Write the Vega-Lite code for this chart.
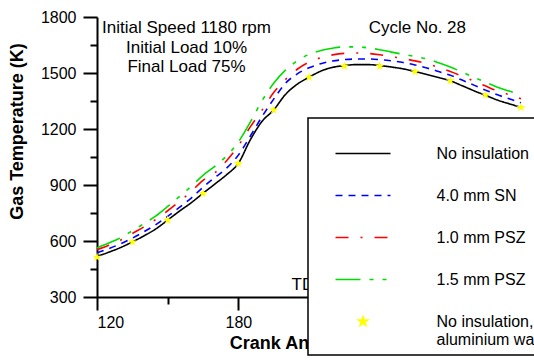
{
  "$schema": "https://vega.github.io/schema/vega-lite/v6.json",
  "width": 424,
  "height": 280,
  "autosize": "none",
  "padding": {"left": 97, "top": 17, "right": 13, "bottom": 65},
  "background": "white",
  "config": {
    "view": {"stroke": null},
    "font": "Liberation Sans",
    "axis": {"grid": false, "domainColor": "black", "domainWidth": 2, "tickColor": "black", "tickWidth": 2, "labelColor": "black", "titleColor": "black", "labelFont": "Liberation Sans", "titleFont": "Liberation Sans", "labelFontSize": 16, "titleFontSize": 18, "titleFontWeight": "bold"}
  },
  "resolve": {"axis": {"x": "independent", "y": "independent"}},
  "datasets": {
    "curves": [
      {"x":120,"T":518,"s":"No insulation"},{"x":125,"T":540,"s":"No insulation"},{"x":130,"T":565,"s":"No insulation"},{"x":135,"T":595,"s":"No insulation"},{"x":140,"T":628,"s":"No insulation"},{"x":145,"T":665,"s":"No insulation"},{"x":150,"T":712,"s":"No insulation"},{"x":155,"T":760,"s":"No insulation"},{"x":160,"T":805,"s":"No insulation"},{"x":165,"T":855,"s":"No insulation"},{"x":170,"T":905,"s":"No insulation"},{"x":175,"T":955,"s":"No insulation"},{"x":180,"T":1016,"s":"No insulation"},{"x":185,"T":1140,"s":"No insulation"},{"x":190,"T":1240,"s":"No insulation"},{"x":195,"T":1302,"s":"No insulation"},{"x":200,"T":1385,"s":"No insulation"},{"x":205,"T":1440,"s":"No insulation"},{"x":210,"T":1477,"s":"No insulation"},{"x":215,"T":1510,"s":"No insulation"},{"x":220,"T":1530,"s":"No insulation"},{"x":225,"T":1540,"s":"No insulation"},{"x":230,"T":1545,"s":"No insulation"},{"x":235,"T":1545,"s":"No insulation"},{"x":240,"T":1540,"s":"No insulation"},{"x":245,"T":1532,"s":"No insulation"},{"x":250,"T":1522,"s":"No insulation"},{"x":255,"T":1508,"s":"No insulation"},{"x":260,"T":1492,"s":"No insulation"},{"x":265,"T":1476,"s":"No insulation"},{"x":270,"T":1458,"s":"No insulation"},{"x":275,"T":1432,"s":"No insulation"},{"x":280,"T":1405,"s":"No insulation"},{"x":285,"T":1380,"s":"No insulation"},{"x":290,"T":1355,"s":"No insulation"},{"x":295,"T":1335,"s":"No insulation"},{"x":300,"T":1316,"s":"No insulation"},
      {"x":120,"T":537,"s":"4.0 mm SN"},{"x":125,"T":559,"s":"4.0 mm SN"},{"x":130,"T":585,"s":"4.0 mm SN"},{"x":135,"T":615,"s":"4.0 mm SN"},{"x":140,"T":650,"s":"4.0 mm SN"},{"x":145,"T":688,"s":"4.0 mm SN"},{"x":150,"T":732,"s":"4.0 mm SN"},{"x":155,"T":780,"s":"4.0 mm SN"},{"x":160,"T":830,"s":"4.0 mm SN"},{"x":165,"T":888,"s":"4.0 mm SN"},{"x":170,"T":940,"s":"4.0 mm SN"},{"x":175,"T":990,"s":"4.0 mm SN"},{"x":180,"T":1060,"s":"4.0 mm SN"},{"x":185,"T":1160,"s":"4.0 mm SN"},{"x":190,"T":1265,"s":"4.0 mm SN"},{"x":195,"T":1360,"s":"4.0 mm SN"},{"x":200,"T":1445,"s":"4.0 mm SN"},{"x":205,"T":1495,"s":"4.0 mm SN"},{"x":210,"T":1528,"s":"4.0 mm SN"},{"x":215,"T":1550,"s":"4.0 mm SN"},{"x":220,"T":1564,"s":"4.0 mm SN"},{"x":225,"T":1572,"s":"4.0 mm SN"},{"x":230,"T":1575,"s":"4.0 mm SN"},{"x":235,"T":1575,"s":"4.0 mm SN"},{"x":240,"T":1572,"s":"4.0 mm SN"},{"x":245,"T":1565,"s":"4.0 mm SN"},{"x":250,"T":1556,"s":"4.0 mm SN"},{"x":255,"T":1543,"s":"4.0 mm SN"},{"x":260,"T":1527,"s":"4.0 mm SN"},{"x":265,"T":1508,"s":"4.0 mm SN"},{"x":270,"T":1488,"s":"4.0 mm SN"},{"x":275,"T":1462,"s":"4.0 mm SN"},{"x":280,"T":1435,"s":"4.0 mm SN"},{"x":285,"T":1408,"s":"4.0 mm SN"},{"x":290,"T":1383,"s":"4.0 mm SN"},{"x":295,"T":1362,"s":"4.0 mm SN"},{"x":300,"T":1340,"s":"4.0 mm SN"},
      {"x":120,"T":553,"s":"1.0 mm PSZ"},{"x":125,"T":577,"s":"1.0 mm PSZ"},{"x":130,"T":604,"s":"1.0 mm PSZ"},{"x":135,"T":640,"s":"1.0 mm PSZ"},{"x":140,"T":676,"s":"1.0 mm PSZ"},{"x":145,"T":716,"s":"1.0 mm PSZ"},{"x":150,"T":762,"s":"1.0 mm PSZ"},{"x":155,"T":812,"s":"1.0 mm PSZ"},{"x":160,"T":865,"s":"1.0 mm PSZ"},{"x":165,"T":925,"s":"1.0 mm PSZ"},{"x":170,"T":965,"s":"1.0 mm PSZ"},{"x":175,"T":1030,"s":"1.0 mm PSZ"},{"x":180,"T":1110,"s":"1.0 mm PSZ"},{"x":185,"T":1210,"s":"1.0 mm PSZ"},{"x":190,"T":1300,"s":"1.0 mm PSZ"},{"x":195,"T":1395,"s":"1.0 mm PSZ"},{"x":200,"T":1465,"s":"1.0 mm PSZ"},{"x":205,"T":1520,"s":"1.0 mm PSZ"},{"x":210,"T":1558,"s":"1.0 mm PSZ"},{"x":215,"T":1582,"s":"1.0 mm PSZ"},{"x":220,"T":1597,"s":"1.0 mm PSZ"},{"x":225,"T":1605,"s":"1.0 mm PSZ"},{"x":230,"T":1607,"s":"1.0 mm PSZ"},{"x":235,"T":1605,"s":"1.0 mm PSZ"},{"x":240,"T":1598,"s":"1.0 mm PSZ"},{"x":245,"T":1588,"s":"1.0 mm PSZ"},{"x":250,"T":1577,"s":"1.0 mm PSZ"},{"x":255,"T":1565,"s":"1.0 mm PSZ"},{"x":260,"T":1550,"s":"1.0 mm PSZ"},{"x":265,"T":1530,"s":"1.0 mm PSZ"},{"x":270,"T":1508,"s":"1.0 mm PSZ"},{"x":275,"T":1483,"s":"1.0 mm PSZ"},{"x":280,"T":1457,"s":"1.0 mm PSZ"},{"x":285,"T":1430,"s":"1.0 mm PSZ"},{"x":290,"T":1404,"s":"1.0 mm PSZ"},{"x":295,"T":1384,"s":"1.0 mm PSZ"},{"x":300,"T":1362,"s":"1.0 mm PSZ"},
      {"x":120,"T":563,"s":"1.5 mm PSZ"},{"x":125,"T":589,"s":"1.5 mm PSZ"},{"x":130,"T":617,"s":"1.5 mm PSZ"},{"x":135,"T":655,"s":"1.5 mm PSZ"},{"x":140,"T":693,"s":"1.5 mm PSZ"},{"x":145,"T":735,"s":"1.5 mm PSZ"},{"x":150,"T":785,"s":"1.5 mm PSZ"},{"x":155,"T":838,"s":"1.5 mm PSZ"},{"x":160,"T":893,"s":"1.5 mm PSZ"},{"x":165,"T":952,"s":"1.5 mm PSZ"},{"x":170,"T":1000,"s":"1.5 mm PSZ"},{"x":175,"T":1055,"s":"1.5 mm PSZ"},{"x":180,"T":1130,"s":"1.5 mm PSZ"},{"x":185,"T":1235,"s":"1.5 mm PSZ"},{"x":190,"T":1350,"s":"1.5 mm PSZ"},{"x":195,"T":1445,"s":"1.5 mm PSZ"},{"x":200,"T":1515,"s":"1.5 mm PSZ"},{"x":205,"T":1565,"s":"1.5 mm PSZ"},{"x":210,"T":1600,"s":"1.5 mm PSZ"},{"x":215,"T":1620,"s":"1.5 mm PSZ"},{"x":220,"T":1633,"s":"1.5 mm PSZ"},{"x":225,"T":1640,"s":"1.5 mm PSZ"},{"x":230,"T":1640,"s":"1.5 mm PSZ"},{"x":235,"T":1635,"s":"1.5 mm PSZ"},{"x":240,"T":1625,"s":"1.5 mm PSZ"},{"x":245,"T":1612,"s":"1.5 mm PSZ"},{"x":250,"T":1600,"s":"1.5 mm PSZ"},{"x":255,"T":1588,"s":"1.5 mm PSZ"},{"x":260,"T":1575,"s":"1.5 mm PSZ"},{"x":265,"T":1555,"s":"1.5 mm PSZ"},{"x":270,"T":1532,"s":"1.5 mm PSZ"},{"x":275,"T":1505,"s":"1.5 mm PSZ"},{"x":280,"T":1477,"s":"1.5 mm PSZ"},{"x":285,"T":1450,"s":"1.5 mm PSZ"},{"x":290,"T":1424,"s":"1.5 mm PSZ"},{"x":295,"T":1403,"s":"1.5 mm PSZ"},{"x":300,"T":1383,"s":"1.5 mm PSZ"}
    ],
    "stars": [
      {"x":120,"T":513},{"x":135,"T":595},{"x":150,"T":712},{"x":165,"T":855},{"x":180,"T":1016},{"x":195,"T":1302},{"x":210,"T":1477},{"x":225,"T":1537},{"x":240,"T":1537},{"x":255,"T":1507},{"x":270,"T":1459},{"x":285,"T":1382},{"x":300,"T":1316}
    ],
    "notes": [
      {"x":158,"T":1741,"t":"Initial Speed 1180 rpm"},
      {"x":158,"T":1634,"t":"Initial Load 10%"},
      {"x":158,"T":1532,"t":"Final Load 75%"},
      {"x":256,"T":1741,"t":"Cycle No. 28"},
      {"x":210,"T":364,"t":"TDC"}
    ]
  },
  "layer": [
    {
      "data": {"name": "curves"},
      "mark": {"type": "line", "interpolate": "monotone", "strokeWidth": 1.6},
      "encoding": {
        "x": {"field": "x", "type": "quantitative", "scale": {"domain": [120, 300], "nice": false},
          "axis": {"title": "Crank Angle (deg.)", "orient": "bottom", "values": [120,180,240,300], "format": "d",
            "tickSize": 13, "labelPadding": 4, "titleY": 51, "titleBaseline": "alphabetic"}},
        "y": {"field": "T", "type": "quantitative", "scale": {"domain": [300, 1800], "nice": false, "zero": false},
          "axis": {"title": "Gas Temperature (K)", "orient": "left", "values": [300,600,900,1200,1500,1800], "format": "d",
            "tickSize": 14, "labelPadding": 7, "titleX": -80, "titleY": 114, "titleAngle": -90, "titleAlign": "center", "titleBaseline": "middle"}},
        "color": {"field": "s", "type": "nominal",
          "scale": {"domain": ["No insulation", "4.0 mm SN", "1.0 mm PSZ", "1.5 mm PSZ", "No insulation, aluminium wall"],
                    "range": ["#000000", "#0000ff", "#ff0000", "#00dd00", "#ffff00"]},
          "legend": {"orient": "none", "legendX": 211, "legendY": 101, "title": null,
            "strokeColor": "black", "padding": 7, "fillColor": "white",
            "symbolType": "stroke", "symbolSize": 256, "symbolOffset": 19.5, "symbolStrokeWidth": 1.6,
            "labelFont": "Liberation Sans", "labelFontSize": 16, "labelColor": "black", "labelOffset": 45, "labelLimit": 0, "rowPadding": 5,
            "labelExpr": "datum.label == 'No insulation, aluminium wall' ? ['No insulation,', 'aluminium wall'] : datum.label",
            "encode": {
              "legend": {"update": {"strokeWidth": {"value": 1.5}}},
              "labels": {"update": {"lineHeight": {"value": 18}}},
              "symbols": {"update": {
                "shape": {"signal": "datum.value == 'No insulation, aluminium wall' ? 'M0,-1L0.2245,-0.309L0.951,-0.309L0.363,0.118L0.588,0.809L0,0.382L-0.588,0.809L-0.363,0.118L-0.951,-0.309L-0.2245,-0.309Z' : 'stroke'"},
                "size": {"signal": "datum.value == 'No insulation, aluminium wall' ? 90 : 3025"},
                "fill": {"signal": "datum.value == 'No insulation, aluminium wall' ? '#ffff00' : 'transparent'"}
              }}
            }}},
        "strokeDash": {"field": "s", "type": "nominal",
          "scale": {"domain": ["No insulation", "4.0 mm SN", "1.0 mm PSZ", "1.5 mm PSZ", "No insulation, aluminium wall"],
                    "range": [[1, 0], [7, 6], [13, 12, 2, 12], [25, 9, 4, 9, 4, 9], [1, 0]]}}
      }
    },
    {
      "data": {"name": "stars"},
      "mark": {"type": "point", "shape": "M0,-1L0.2245,-0.309L0.951,-0.309L0.363,0.118L0.588,0.809L0,0.382L-0.588,0.809L-0.363,0.118L-0.951,-0.309L-0.2245,-0.309Z", "filled": true, "color": "#ffff00", "size": 90, "opacity": 1},
      "encoding": {
        "x": {"field": "x", "type": "quantitative",
          "axis": {"orient": "bottom", "values": [150, 210, 270], "tickSize": 7, "labels": false, "domain": false, "title": null}},
        "y": {"field": "T", "type": "quantitative",
          "axis": {"orient": "left", "values": [450, 750, 1050, 1350, 1650], "tickSize": 7, "labels": false, "domain": false, "title": null}}
      }
    },
    {
      "data": {"name": "notes"},
      "mark": {"type": "text", "font": "Liberation Sans", "fontSize": 17, "color": "black", "align": "center", "baseline": "middle"},
      "encoding": {
        "x": {"field": "x", "type": "quantitative", "axis": null},
        "y": {"field": "T", "type": "quantitative", "axis": null},
        "text": {"field": "t", "type": "nominal"}
      }
    }
  ]
}
